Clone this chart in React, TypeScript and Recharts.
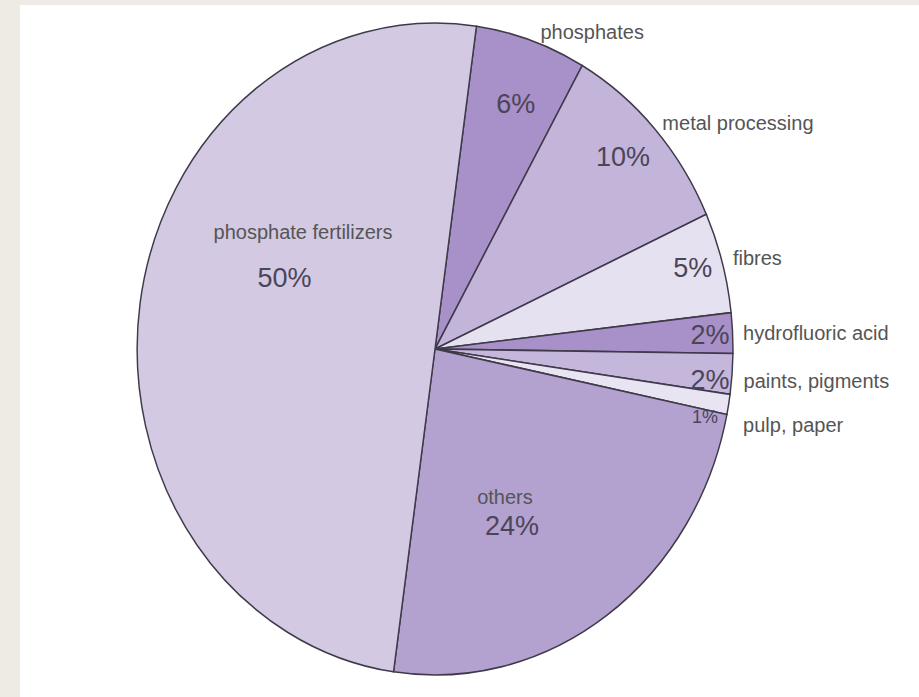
import React from 'react';
import { PieChart, Pie, Cell } from 'recharts';

// clockwise from the top, as in the source figure
const categories = [
  'phosphates',
  'metal processing',
  'fibres',
  'hydrofluoric acid',
  'paints, pigments',
  'pulp, paper',
  'others',
  'phosphate fertilizers',
];
const shares = [6, 10, 5, 2, 2, 1, 24, 50];
const fills = ['#a890c8', '#c3b4da', '#e6e1f0', '#a890c8', '#c5b6db', '#e8e4f1', '#b3a1cf', '#d3c9e3'];

const data = categories.map((name, i) => ({ name, value: shares[i] }));

// the original pie is a bit taller than wide
const SX = 0.914;
const CX = 435;
const CY = 349;
const R = 326;
const CHART_W = 1000; // wider than the page, the x-squeeze brings it back in

// where the two labels of each slice sit: radius factor and angle shift from the mid angle
type Spot = { f: number; dA: number };
const labelSpots: Record<string, { pct: Spot; name: Spot | null; nameInside?: boolean }> = {
  'phosphates': { pct: { f: 0.8, dA: -1 }, name: { f: 1.035, dA: -1.2 } },
  'metal processing': { pct: { f: 0.863, dA: 0.6 }, name: { f: 1.03, dA: -0.2 } },
  'fibres': { pct: { f: 0.9, dA: 0.6 }, name: { f: 1.038, dA: 0.2 } },
  'hydrofluoric acid': { pct: { f: 0.924, dA: -0.1 }, name: { f: 1.035, dA: -0.1 } },
  'paints, pigments': { pct: { f: 0.928, dA: -1.5 }, name: { f: 1.04, dA: -1 } },
  'pulp, paper': { pct: { f: 0.93, dA: -3.2 }, name: { f: 1.06, dA: -2.9 } },
  'others': { pct: { f: 0.6, dA: -9.7 }, name: { f: 0.51, dA: -7.8 }, nameInside: true },
  'phosphate fertilizers': { pct: { f: 0.55, dA: -15.4 }, name: { f: 0.57, dA: -31 }, nameInside: true },
};

const RAD = Math.PI / 180;
const at = (cx: number, cy: number, r: number, angle: number) => ({
  x: cx + r * Math.cos(-angle * RAD),
  y: cy + r * Math.sin(-angle * RAD),
});

function SliceLabel(props: any) {
  const { cx, cy, midAngle, outerRadius, name, value } = props;
  const spot = labelSpots[name];
  if (!spot) return null;
  const p = at(cx, cy, outerRadius * spot.pct.f, midAngle + spot.pct.dA);
  const small = value < 2;
  const out: React.ReactNode[] = [];
  out.push(
    <text
      key="pct"
      x={0}
      y={0}
      transform={`translate(${p.x} ${p.y}) scale(${1 / SX} 1)`}
      textAnchor="middle"
      dominantBaseline="central"
      fontSize={small ? 18 : 27}
      fill="#4b4558"
    >
      {value}%
    </text>
  );
  if (spot.name) {
    const n = at(cx, cy, outerRadius * spot.name.f, midAngle + spot.name.dA);
    out.push(
      <text
        key="name"
        x={0}
        y={0}
        transform={`translate(${n.x} ${n.y}) scale(${1 / SX} 1)`}
        textAnchor={spot.nameInside ? 'middle' : 'start'}
        dominantBaseline="central"
        fontSize={20}
        fill="#555555"
      >
        {name}
      </text>
    );
  }
  return <g>{out}</g>;
}

export default function App() {
  return (
    <div
      style={{
        position: 'fixed',
        left: 0,
        top: 0,
        width: 919,
        height: 697,
        background: '#eeebe4',
        overflow: 'hidden',
        fontFamily: '"Liberation Sans", Arial, sans-serif',
      }}
    >
      <div style={{ position: 'absolute', left: 20, top: 5, right: 0, bottom: 0, background: '#ffffff' }} />
      <div
        style={{
          position: 'absolute',
          left: 0,
          top: 0,
          width: CHART_W,
          height: 697,
          transform: `scaleX(${SX})`,
          transformOrigin: `${CX}px ${CY}px`,
        }}
      >
        <PieChart width={CHART_W} height={697} margin={{ top: 0, right: 0, bottom: 0, left: 0 }}>
          <Pie
            data={data}
            dataKey="value"
            nameKey="name"
            cx={CX}
            cy={CY}
            outerRadius={R}
            startAngle={82}
            endAngle={-278}
            stroke="#3f3a4a"
            strokeWidth={1.6}
            label={SliceLabel}
            labelLine={false}
            isAnimationActive={false}
          >
            {data.map((d, i) => (
              <Cell key={d.name} fill={fills[i]} stroke="#3f3a4a" strokeWidth={1.6} />
            ))}
          </Pie>
        </PieChart>
      </div>
    </div>
  );
}
